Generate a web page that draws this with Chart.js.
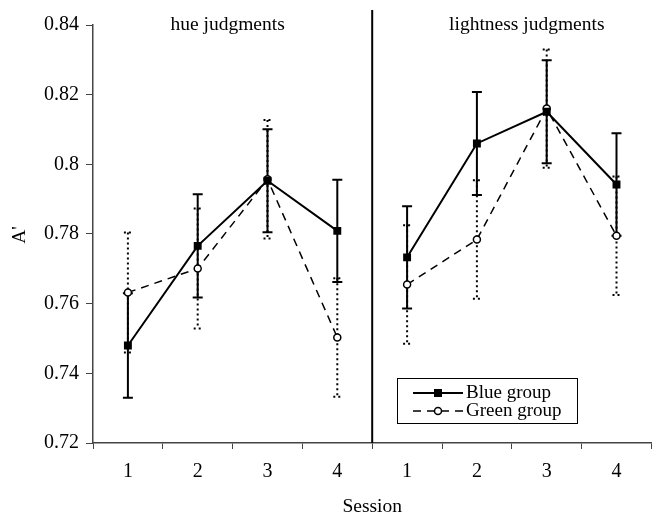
<!DOCTYPE html>
<html><head><meta charset="utf-8">
<script src="https://cdn.jsdelivr.net/npm/chart.js@4"></script>
<style>html,body{margin:0;padding:0;background:#fff}#wrap{width:657px;height:516px}</style>
</head><body><div id="wrap"><canvas id="c" width="657" height="516"></canvas></div>
<script>
const categories = ['1','2','3','4','1','2','3','4'];
const panelTitles = ['hue judgments', 'lightness judgments'];
const blueMean = [0.748, 0.7766, 0.7953, 0.7809, 0.7733, 0.806, 0.8151, 0.7942];
const blueErr = [0.015, 0.0148, 0.0148, 0.0147, 0.0147, 0.0148, 0.0148, 0.0147];
const greenMean = [0.7632, 0.7701, 0.7957, 0.7503, 0.7655, 0.7784, 0.816, 0.7795];
const greenErr = [0.0172, 0.0172, 0.017, 0.017, 0.017, 0.017, 0.017, 0.017];
const seriesNames = ['Blue group', 'Green group'];
const yTicks = [0.72, 0.74, 0.76, 0.78, 0.8, 0.82, 0.84];
const xTitle = 'Session';
const yTitle = "A'";

const SERIF = '"Liberation Serif", "DejaVu Serif", serif';
const breakSeg = ctx => ctx.p0DataIndex === 3 ? 'rgba(0,0,0,0)' : '#000';

const errorBars = {
  id: 'errorBars',
  beforeDatasetsDraw(chart) {
    const ctx = chart.ctx, y = chart.scales.y;
    chart.data.datasets.forEach((ds, di) => {
      const meta = chart.getDatasetMeta(di);
      ctx.save();
      ctx.strokeStyle = '#000';
      if (ds.errStyle === 'solid') { ctx.lineWidth = 2; ctx.setLineDash([]); }
      else { ctx.lineWidth = 2; ctx.setLineDash([2, 3]); }
      const cap = ds.errStyle === 'solid' ? 5 : 4;
      meta.data.forEach((pt, i) => {
        const v = ds.data[i], e = ds.err[i];
        const yt = y.getPixelForValue(v + e), yb = y.getPixelForValue(v - e);
        ctx.beginPath();
        ctx.moveTo(pt.x, yt); ctx.lineTo(pt.x, yb);
        ctx.moveTo(pt.x - cap, yt); ctx.lineTo(pt.x + cap, yt);
        ctx.moveTo(pt.x - cap, yb); ctx.lineTo(pt.x + cap, yb);
        ctx.stroke();
      });
      ctx.restore();
    });
  }
};

const decorations = {
  id: 'decorations',
  afterDraw(chart) {
    const ctx = chart.ctx, a = chart.chartArea, x = chart.scales.x;
    ctx.save();
    // divider between panels
    const xd = (x.getPixelForValue(3) + x.getPixelForValue(4)) / 2;
    ctx.strokeStyle = '#000'; ctx.lineWidth = 2;
    ctx.beginPath(); ctx.moveTo(xd, a.top - 15); ctx.lineTo(xd, a.bottom); ctx.stroke();
    // panel titles
    ctx.fillStyle = '#000';
    ctx.font = '19.5px ' + SERIF;
    ctx.textAlign = 'center'; ctx.textBaseline = 'middle';
    ctx.fillText(panelTitles[0], (a.left + xd) / 2 - 5, a.top);
    ctx.fillText(panelTitles[1], (xd + a.right) / 2 + 15, a.top);
    // axis titles
    ctx.fillText(xTitle, xd, 507);
    ctx.save();
    ctx.translate(20, 235); ctx.rotate(-Math.PI / 2);
    ctx.fillText(yTitle, 0, 0);
    ctx.restore();
    // legend
    const lx = 397, ly = 378, lw = 180, lh = 45;
    ctx.fillStyle = '#fff'; ctx.fillRect(lx, ly, lw, lh);
    ctx.strokeStyle = '#000'; ctx.lineWidth = 1;
    ctx.strokeRect(lx + 0.5, ly + 0.5, lw, lh);
    const rows = [393, 411];
    // blue
    ctx.lineWidth = 2; ctx.setLineDash([]);
    ctx.beginPath(); ctx.moveTo(413, rows[0]); ctx.lineTo(463, rows[0]); ctx.stroke();
    ctx.fillStyle = '#000'; ctx.fillRect(434, rows[0] - 4, 8, 8);
    // green
    ctx.lineWidth = 1.5; ctx.setLineDash([8, 6]);
    ctx.beginPath(); ctx.moveTo(413, rows[1]); ctx.lineTo(463, rows[1]); ctx.stroke();
    ctx.setLineDash([]);
    ctx.beginPath(); ctx.arc(438, rows[1], 3.5, 0, Math.PI * 2);
    ctx.fillStyle = '#fff'; ctx.fill(); ctx.stroke();
    ctx.fillStyle = '#000'; ctx.textAlign = 'left';
    ctx.font = '19px ' + SERIF;
    ctx.fillText(seriesNames[0], 466, rows[0]);
    ctx.fillText(seriesNames[1], 466, rows[1]);
    ctx.restore();
  }
};

new Chart(document.getElementById('c'), {
  type: 'line',
  data: {
    labels: categories,
    datasets: [
      { label: seriesNames[0], data: blueMean, err: blueErr, errStyle: 'solid',
        borderColor: '#000', borderWidth: 2, pointStyle: 'rect', pointRadius: 5.6,
        pointBackgroundColor: '#000', pointBorderColor: '#000', pointBorderWidth: 0,
        segment: { borderColor: breakSeg } },
      { label: seriesNames[1], data: greenMean, err: greenErr, errStyle: 'dotted',
        borderColor: '#000', borderWidth: 1.5, borderDash: [8, 6], pointStyle: 'circle', pointRadius: 3.5,
        pointBackgroundColor: '#fff', pointBorderColor: '#000', pointBorderWidth: 1.5,
        segment: { borderColor: breakSeg } }
    ]
  },
  options: {
    responsive: false, animation: false,
    layout: { padding: { top: 25, right: 5, left: 0, bottom: 0 } },
    plugins: { legend: { display: false }, tooltip: { enabled: false } },
    scales: {
      x: {
        offset: true,
        grid: { offset: true, drawOnChartArea: false, drawTicks: true, tickLength: 6, color: '#444' },
        border: { color: '#444', width: 1.5 },
        ticks: { color: '#000', padding: 11, font: { family: SERIF, size: 20 }, maxRotation: 0 },
        afterFit(s) { s.height = 73; }
      },
      y: {
        min: 0.72, max: 0.84,
        afterBuildTicks(s) { s.ticks = yTicks.map(v => ({ value: v })); },
        grid: { drawOnChartArea: false, drawTicks: true, tickLength: 7, color: '#444' },
        border: { color: '#444', width: 1.5 },
        ticks: { color: '#000', padding: 7, font: { family: SERIF, size: 20 },
          callback: v => String(+Number(v).toFixed(2)) },
        afterFit(s) { s.width = 93; }
      }
    }
  },
  plugins: [errorBars, decorations]
});
</script>
</body></html>
